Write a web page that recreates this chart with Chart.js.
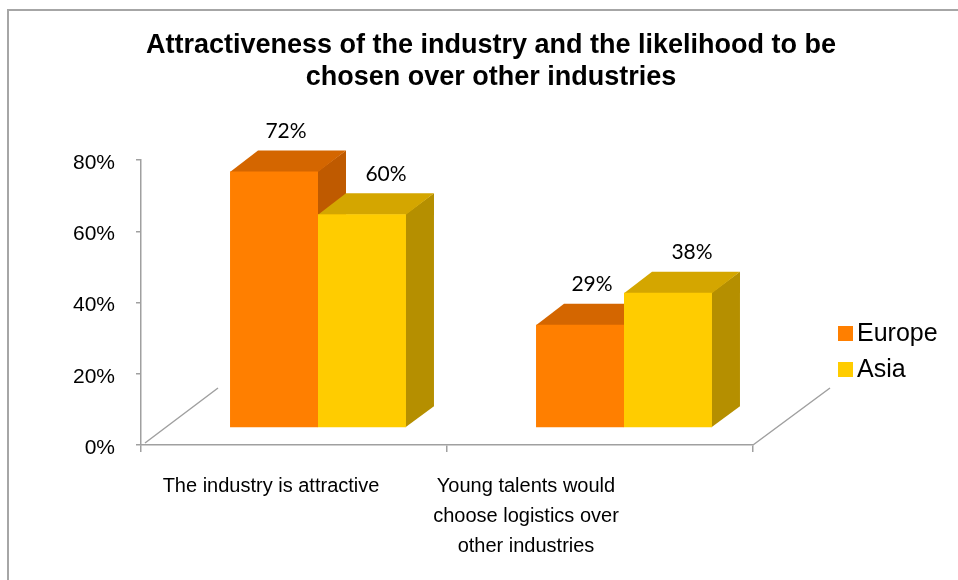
<!DOCTYPE html>
<html>
<head>
<meta charset="utf-8">
<script src="https://cdn.jsdelivr.net/npm/chart.js@4/dist/chart.umd.min.js"></script>
<style>
  html, body { margin: 0; padding: 0; background: #fff; }
  #wrap { position: relative; width: 958px; height: 580px; }
</style>
</head>
<body>
<div id="wrap"><canvas id="chart" width="958" height="580"></canvas></div>
<script>
const titleLines = ['Attractiveness of the industry and the likelihood to be', 'chosen over other industries'];
const categories = ['The industry is attractive', ['Young talents would', 'choose logistics over', 'other industries']];
const seriesNames = ['Europe', 'Asia'];
const europe = [72, 29];
const asia = [60, 38];
const yTicks = [0, 20, 40, 60, 80];

// colours: front / top / side face
const frontColors = ['#ff7f00', '#ffcc00'];
const topColors = ['#d46600', '#d4a600'];
const sideColors = ['#bf5a00', '#b58f00'];
const labelDx = [12, 24];

// fake 3d offsets
const SHIFT = { x: 24, y: -17 };   // bars sit a bit behind the front floor edge
const DEPTH = { x: 28, y: -21 };   // bar depth
const FLOOR = { x: 77, y: -57 };   // floor depth
const FONT = '"Liberation Sans", Arial, sans-serif';

const threeD = {
    id: 'threeD',
    beforeDraw(chart) {
        const ctx = chart.ctx;
        ctx.save();
        ctx.fillStyle = '#a6a6a6';
        ctx.fillRect(7, 9, 2, 571);
        ctx.fillRect(7, 9, 951, 2);
        ctx.restore();
    },
    beforeDatasetsDraw(chart) {
        const ctx = chart.ctx, a = chart.chartArea;
        ctx.save();
        ctx.strokeStyle = '#a0a0a0';
        ctx.lineWidth = 1.5;
        ctx.beginPath();
        ctx.moveTo(a.left + 4, a.bottom - 2);
        ctx.lineTo(a.left + FLOOR.x, a.bottom + FLOOR.y);
        ctx.moveTo(a.right, a.bottom);
        ctx.lineTo(a.right + FLOOR.x, a.bottom + FLOOR.y);
        ctx.stroke();

        // top + side faces, left series first so the right one hides them
        chart.data.datasets.forEach((ds, d) => {
            chart.getDatasetMeta(d).data.forEach(bar => {
                const p = bar.getProps(['x', 'y', 'base', 'width'], true);
                const l = p.x - p.width / 2 + SHIFT.x, r = p.x + p.width / 2 + SHIFT.x;
                const t = p.y + SHIFT.y, b = p.base + SHIFT.y;
                ctx.fillStyle = sideColors[d];
                ctx.beginPath();
                ctx.moveTo(r - 0.5, t);
                ctx.lineTo(r + DEPTH.x, t + DEPTH.y);
                ctx.lineTo(r + DEPTH.x, b + DEPTH.y);
                ctx.lineTo(r - 0.5, b);
                ctx.closePath();
                ctx.fill();
                ctx.fillStyle = topColors[d];
                ctx.beginPath();
                ctx.moveTo(l, t + 0.5);
                ctx.lineTo(l + DEPTH.x, t + DEPTH.y);
                ctx.lineTo(r + DEPTH.x, t + DEPTH.y);
                ctx.lineTo(r, t + 0.5);
                ctx.closePath();
                ctx.fill();
            });
        });
        ctx.restore();
        ctx.save();
        ctx.translate(SHIFT.x, SHIFT.y);
    },
    afterDatasetsDraw(chart) {
        chart.ctx.restore();
    },
    afterDraw(chart) {
        const ctx = chart.ctx, a = chart.chartArea, xs = chart.scales.x;
        ctx.save();
        ctx.fillStyle = '#000';
        ctx.textAlign = 'center';
        ctx.textBaseline = 'middle';

        ctx.font = 'bold 27px ' + FONT;
        titleLines.forEach((t, i) => ctx.fillText(t, 491, 46 + i * 32));

        ctx.font = '21px Lato, sans-serif';
        chart.data.datasets.forEach((ds, d) => {
            chart.getDatasetMeta(d).data.forEach((bar, i) => {
                ctx.fillText(ds.data[i] + '%', bar.x + SHIFT.x + labelDx[d], bar.y + SHIFT.y - 40);
            });
        });

        ctx.font = '20px ' + FONT;
        categories.forEach((c, i) => {
            const px = xs.getPixelForValue(i);
            const x = a.left + 2.5 + (px - a.left) * 5 / 6;
            [].concat(c).forEach((line, j) => ctx.fillText(line, x, a.bottom + 41 + j * 30));
        });

        // legend
        ctx.textAlign = 'left';
        ctx.font = '25px ' + FONT;
        seriesNames.forEach((name, d) => {
            const y = a.top + 173 + d * 36;
            ctx.fillStyle = frontColors[d];
            ctx.fillRect(a.right + 85, y - 7, 15, 15);
            ctx.fillStyle = '#000';
            ctx.fillText(name, a.right + 104, y + 1);
        });
        ctx.restore();
    }
};

new Chart(document.getElementById('chart'), {
    type: 'bar',
    data: {
        labels: categories,
        datasets: [
            { label: seriesNames[0], data: europe, backgroundColor: frontColors[0], clip: false },
            { label: seriesNames[1], data: asia, backgroundColor: frontColors[1], clip: false }
        ]
    },
    options: {
        responsive: false,
        animation: false,
        devicePixelRatio: 1,
        layout: { padding: { left: 0, right: 205, top: 160, bottom: 0 } },
        datasets: { bar: { categoryPercentage: 0.575, barPercentage: 1, borderWidth: 0 } },
        scales: {
            x: {
                grid: { drawOnChartArea: false, drawTicks: true, tickLength: 7, color: '#a0a0a0', lineWidth: 1.5, offset: true },
                border: { color: '#a0a0a0', width: 1.5 },
                ticks: { display: false },
                afterFit: s => { s.height = 135; }
            },
            y: {
                min: 0,
                max: 80,
                afterBuildTicks: s => { s.ticks = yTicks.map(v => ({ value: v })); },
                ticks: { callback: v => v + '%', color: '#000', padding: 21, labelOffset: 3, font: { family: FONT, size: 21 } },
                grid: { drawOnChartArea: false, tickLength: 5, color: '#a0a0a0', lineWidth: 1.5 },
                border: { color: '#a0a0a0', width: 1.5 },
                afterFit: s => { s.width = 141; }
            }
        },
        plugins: {
            legend: { display: false },
            title: { display: false },
            tooltip: { enabled: false }
        }
    },
    plugins: [threeD]
});
</script>
</body>
</html>
